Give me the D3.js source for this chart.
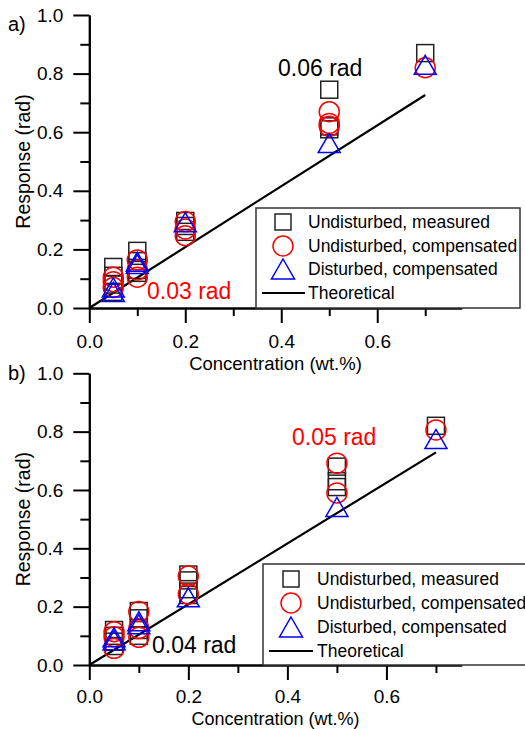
<!DOCTYPE html>
<html>
<head>
<meta charset="utf-8">
<script src="https://cdn.jsdelivr.net/npm/d3@7"></script>
<style>
  html, body { margin: 0; padding: 0; background: #fff; }
  svg { display: block; font-family: Arial, "Liberation Sans", sans-serif; }
</style>
</head>
<body>
<svg id="chart" width="525" height="729"></svg>
<script>
// Concentrations at which the responses were recorded (wt.%)
const concentrations = [0.05, 0.1, 0.2, 0.5, 0.7];

const seriesNames = ["Undisturbed, measured", "Undisturbed, compensated", "Disturbed, compensated", "Theoretical"];

// Panel a) — repeated responses (rad) per concentration
const aMeasured    = [[0.14, 0.11, 0.08, 0.055], [0.195, 0.16, 0.13, 0.12], [0.297, 0.28, 0.26], [0.745, 0.62, 0.61], [0.87]];
const aCompensated = [[0.105, 0.09, 0.07], [0.164, 0.13, 0.105], [0.295, 0.27, 0.247], [0.67, 0.63, 0.62], [0.82]];
const aDisturbed   = [[0.07, 0.055], [0.158, 0.15], [0.293], [0.563], [0.83]];

// Panel b)
const bMeasured    = [[0.12, 0.1, 0.08, 0.065], [0.185, 0.16, 0.12, 0.10], [0.31, 0.29, 0.26, 0.24], [0.68, 0.63, 0.61], [0.82]];
const bCompensated = [[0.114, 0.097, 0.057], [0.183, 0.125, 0.095], [0.305, 0.243], [0.692, 0.59], [0.806]];
const bDisturbed   = [[0.095, 0.085], [0.15, 0.14], [0.232], [0.542], [0.775]];

// Theoretical response line
const theoryX = [0, 0.7];
const theoryA = [0, 0.727];
const theoryB = [0, 0.729];

const xMajorTicks = [0, 0.2, 0.4, 0.6];
const xMinorTicks = [0.1, 0.3, 0.5, 0.7];
const yMajorTicks = [0, 0.2, 0.4, 0.6, 0.8, 1.0];
const yMinorTicks = [0.1, 0.3, 0.5, 0.7, 0.9];

const panels = [
  { label: "a)", measured: aMeasured, compensated: aCompensated, disturbed: aDisturbed, theory: theoryA,
    xMax: 0.776, top: 15, bottom: 308, labelY: 31, tickPad: 12, titleGap: 62, titleSize: 18.5,
    note1: { text: "0.06 rad", color: "#000", x: 278, y: 76 },
    note2: { text: "0.03 rad", color: "#ff0000", x: 147, y: 299 },
    legend: { x: 256, y: 208, w: 264, symX: 283, textX: 308, rows: [222, 246, 269, 293], lineX: [262, 305] } },
  { label: "b)", measured: bMeasured, compensated: bCompensated, disturbed: bDisturbed, theory: theoryB,
    xMax: 0.752, top: 373.3, bottom: 665, labelY: 380, tickPad: 10, titleGap: 59.5, titleSize: 18,
    note1: { text: "0.05 rad", color: "#ff0000", x: 292, y: 445 },
    note2: { text: "0.04 rad", color: "#000", x: 152, y: 653 },
    legend: { x: 263, y: 564, w: 270, symX: 291, textX: 317, rows: [579, 603, 627, 651], lineX: [269, 313] } }
];

const svg = d3.select("#chart");
const left = 89.3, right = 461.7;
const red = "#ff0000", blue = "#0000ff", dark = "#222";

const triPath = (cx, cy, w, h) => `M${cx},${cy - h / 2}L${cx + w / 2},${cy + h / 2}L${cx - w / 2},${cy + h / 2}Z`;

function flatten(values) {
  const out = [];
  values.forEach((vals, i) => vals.forEach(v => out.push({ x: concentrations[i], y: v })));
  return out;
}

panels.forEach(p => {
  const g = svg.append("g");
  const x = d3.scaleLinear().domain([0, p.xMax]).range([left, right]);
  const y = d3.scaleLinear().domain([0, 1]).range([p.bottom, p.top]);

  // Theoretical line
  const line = d3.line().x(d => x(d[0])).y(d => y(d[1]));
  g.append("path")
    .datum(theoryX.map((v, i) => [v, p.theory[i]]))
    .attr("d", line)
    .attr("fill", "none").attr("stroke", "#000").attr("stroke-width", 2.2);

  // Markers
  g.selectAll(".sq").data(flatten(p.measured)).join("rect")
    .attr("x", d => x(d.x) - 8.5).attr("y", d => y(d.y) - 8.5)
    .attr("width", 17).attr("height", 17)
    .attr("fill", "none").attr("stroke", dark).attr("stroke-width", 1.5);
  g.selectAll(".ci").data(flatten(p.compensated)).join("circle")
    .attr("cx", d => x(d.x)).attr("cy", d => y(d.y)).attr("r", 10)
    .attr("fill", "none").attr("stroke", red).attr("stroke-width", 1.5);
  g.selectAll(".tr").data(flatten(p.disturbed)).join("path")
    .attr("d", d => triPath(x(d.x), y(d.y), 22, 19))
    .attr("fill", "none").attr("stroke", blue).attr("stroke-width", 1.5);

  // Axes
  const axisStyle = sel => {
    sel.select(".domain").attr("stroke", "#000").attr("stroke-width", 2);
    sel.selectAll(".tick line").attr("stroke", "#000").attr("stroke-width", 2);
    sel.selectAll(".tick text").attr("font-size", 19).attr("fill", "#000")
      .attr("font-family", "Arial, 'Liberation Sans', sans-serif");
  };
  g.append("g").attr("transform", `translate(0,${p.bottom})`)
    .call(d3.axisBottom(x).tickValues(xMinorTicks).tickSize(8).tickSizeOuter(0).tickFormat(""))
    .call(axisStyle);
  g.append("g").attr("transform", `translate(0,${p.bottom})`)
    .call(d3.axisBottom(x).tickValues(xMajorTicks).tickSize(15).tickSizeOuter(0).tickPadding(p.tickPad).tickFormat(d3.format(".1f")))
    .call(axisStyle);
  g.append("g").attr("transform", `translate(${left},0)`)
    .call(d3.axisLeft(y).tickValues(yMinorTicks).tickSize(9).tickSizeOuter(0).tickFormat(""))
    .call(axisStyle);
  g.append("g").attr("transform", `translate(${left},0)`)
    .call(d3.axisLeft(y).tickValues(yMajorTicks).tickSize(16).tickSizeOuter(0).tickPadding(10).tickFormat(d3.format(".1f")))
    .call(axisStyle);

  // Axis titles
  g.append("text").attr("x", (left + right) / 2).attr("y", p.bottom + p.titleGap)
    .attr("text-anchor", "middle").attr("font-size", p.titleSize).text("Concentration (wt.%)");
  g.append("text")
    .attr("transform", `translate(30,${(p.top + p.bottom) / 2}) rotate(-90)`)
    .attr("text-anchor", "middle").attr("font-size", 19.5).text("Response (rad)");

  // Panel label
  g.append("text").attr("x", 8).attr("y", p.labelY).attr("font-size", 20).text(p.label);

  // Spread annotations
  [p.note1, p.note2].forEach(n => {
    g.append("text").attr("x", n.x).attr("y", n.y).attr("font-size", 23)
      .attr("fill", n.color).text(n.text);
  });

  // Legend
  const L = p.legend;
  g.append("rect").attr("x", L.x).attr("y", L.y).attr("width", L.w).attr("height", p.bottom - L.y)
    .attr("fill", "#fff").attr("stroke", "#333").attr("stroke-width", 1.5);
  g.append("rect").attr("x", L.symX - 8).attr("y", L.rows[0] - 8).attr("width", 16).attr("height", 16)
    .attr("fill", "none").attr("stroke", dark).attr("stroke-width", 1.5);
  g.append("circle").attr("cx", L.symX).attr("cy", L.rows[1]).attr("r", 10)
    .attr("fill", "none").attr("stroke", red).attr("stroke-width", 1.5);
  g.append("path").attr("d", triPath(L.symX, L.rows[2], 23, 20))
    .attr("fill", "none").attr("stroke", blue).attr("stroke-width", 1.5);
  g.append("line").attr("x1", L.lineX[0]).attr("x2", L.lineX[1]).attr("y1", L.rows[3]).attr("y2", L.rows[3])
    .attr("stroke", "#000").attr("stroke-width", 2);
  seriesNames.forEach((name, i) => {
    g.append("text").attr("x", L.textX).attr("y", L.rows[i]).attr("dy", "0.36em")
      .attr("font-size", 17.5).text(name);
  });
});
</script>
</body>
</html>
